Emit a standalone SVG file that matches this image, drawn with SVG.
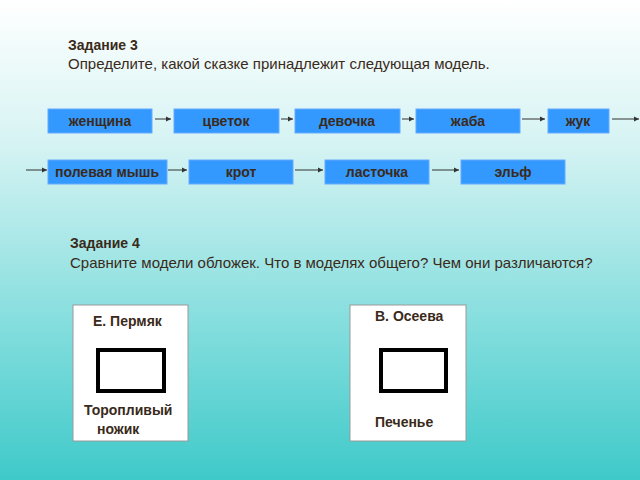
<svg xmlns="http://www.w3.org/2000/svg" width="640" height="480" viewBox="0 0 640 480">
<defs>
<linearGradient id="bg" x1="0" y1="0" x2="0" y2="1">
<stop offset="0" stop-color="#ffffff"/><stop offset="0.3" stop-color="#d6f3f3"/><stop offset="0.7" stop-color="#7fdcdc"/><stop offset="1" stop-color="#3fc9c9"/>
</linearGradient>
<marker id="a" markerWidth="6" markerHeight="6" refX="5" refY="3" orient="auto" markerUnits="userSpaceOnUse"><path d="M0,0.5 L5,3 L0,5.5z" fill="#333"/></marker>
<style>
text{font-family:"Liberation Sans",Arial,sans-serif;fill:#3a2a1a}
.n rect{fill:#3399ff;stroke:#66aaff;stroke-width:1}
.n text{font-size:14px;font-weight:bold;text-anchor:middle}
.c line{stroke:#333;stroke-width:1;marker-end:url(#a)}
.card rect.o{fill:#fff;stroke:#999;stroke-width:1}
.card rect.i{fill:#fff;stroke:#000;stroke-width:4}
.card text{font-size:14px;font-weight:bold}
</style>
</defs>
<rect width="640" height="480" fill="url(#bg)"/>
<text x="68" y="50" font-size="14" font-weight="bold">Задание 3</text>
<text x="68" y="69" font-size="15">Определите, какой сказке принадлежит следующая модель.</text>
<g class="n" id="n1"><rect x="48" y="109" width="104" height="24"/><text x="100" y="126">женщина</text></g>
<g class="n" id="n2"><rect x="174" y="109" width="105" height="24"/><text x="226" y="126">цветок</text></g>
<g class="n" id="n3"><rect x="295" y="109" width="105" height="24"/><text x="347" y="126">девочка</text></g>
<g class="n" id="n4"><rect x="416" y="109" width="104" height="24"/><text x="468" y="126">жаба</text></g>
<g class="n" id="n5"><rect x="548" y="109" width="61" height="24"/><text x="578" y="126">жук</text></g>
<g class="n" id="n6"><rect x="48" y="160" width="119" height="24"/><text x="107" y="177">полевая мышь</text></g>
<g class="n" id="n7"><rect x="189" y="160" width="104" height="24"/><text x="241" y="177">крот</text></g>
<g class="n" id="n8"><rect x="325" y="160" width="104" height="24"/><text x="377" y="177">ласточка</text></g>
<g class="n" id="n9"><rect x="461" y="160" width="104" height="24"/><text x="513" y="177">эльф</text></g>
<g class="c" id="connectors">
<line x1="155" y1="119" x2="171" y2="119"/>
<line x1="281" y1="119" x2="293" y2="119"/>
<line x1="402" y1="119" x2="414" y2="119"/>
<line x1="522" y1="119" x2="545" y2="119"/>
<line x1="612" y1="119" x2="639" y2="119"/>
<line x1="26" y1="170" x2="47" y2="170"/>
<line x1="168" y1="170" x2="187" y2="170"/>
<line x1="295" y1="170" x2="323" y2="170"/>
<line x1="432" y1="170" x2="459" y2="170"/>
</g>
<text x="70" y="248" font-size="14" font-weight="bold">Задание 4</text>
<text x="70" y="268" font-size="15">Сравните модели обложек. Что в моделях общего? Чем они различаются?</text>
<g class="card" id="card1"><rect class="o" x="73" y="305" width="115" height="136"/><rect class="i" x="98" y="350" width="66" height="41"/>
<text x="93" y="326">Е. Пермяк</text><text x="84" y="415">Торопливый</text><text x="97" y="434">ножик</text></g>
<g class="card" id="card2"><rect class="o" x="350" y="305" width="116" height="136"/><rect class="i" x="381" y="350" width="65" height="41"/>
<text x="375" y="321">В. Осеева</text><text x="375" y="427">Печенье</text></g>
</svg>
